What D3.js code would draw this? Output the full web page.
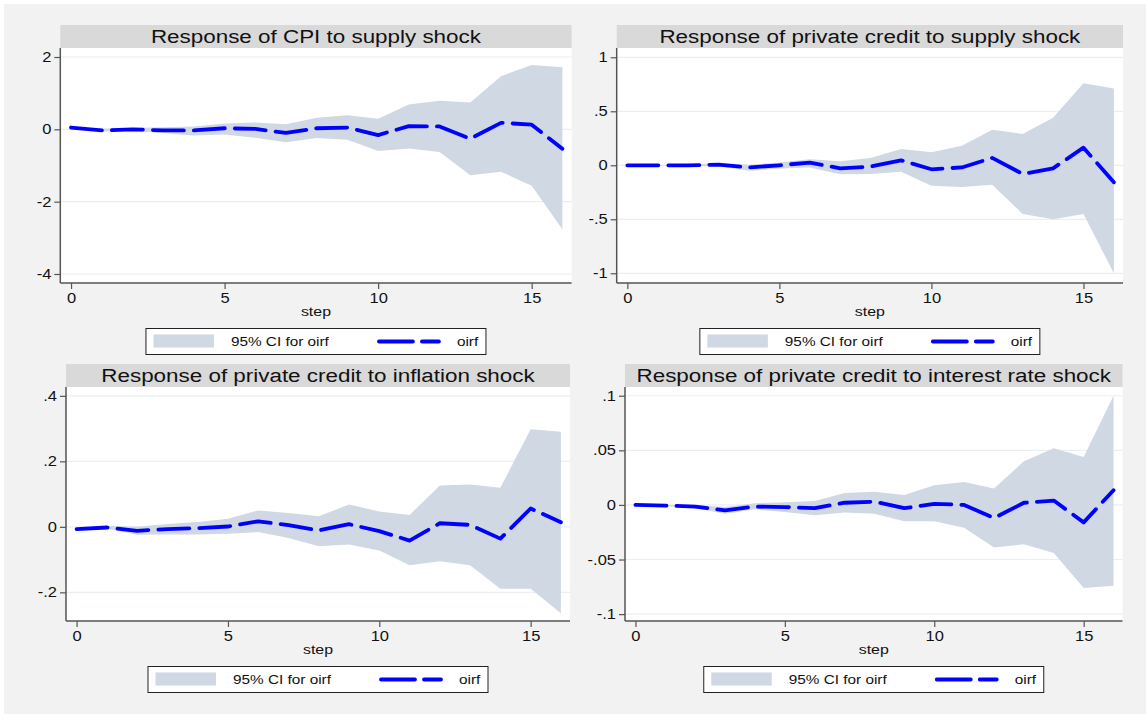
<!DOCTYPE html>
<html>
<head>
<meta charset="utf-8">
<script src="https://cdn.jsdelivr.net/npm/d3@7"></script>
<style>
  body { margin: 0; background: #ffffff; }
  svg text { font-family: "Liberation Sans", Arial, sans-serif; fill: #111; }
</style>
</head>
<body>
<svg id="chart" width="1146" height="714"></svg>
<script>
// impulse response data
const steps = [0, 1, 2, 3, 4, 5, 6, 7, 8, 9, 10, 11, 12, 13, 14, 15, 16];

const titles = [
  "Response of CPI to supply shock",
  "Response of private credit to supply shock",
  "Response of private credit to inflation shock",
  "Response of private credit to interest rate shock"
];

const cpiSupplyIrf = [0.05, -0.03, 0, -0.03, -0.03, 0.03, 0.01, -0.1, 0.03, 0.05, -0.16, 0.09, 0.08, -0.26, 0.18, 0.13, -0.54];
const cpiSupplyHi  = [0.05, 0.02, 0.04, 0.06, 0.08, 0.16, 0.19, 0.14, 0.32, 0.39, 0.29, 0.69, 0.79, 0.74, 1.47, 1.78, 1.72];
const cpiSupplyLo  = [0.04, -0.05, -0.05, -0.1, -0.17, -0.14, -0.23, -0.36, -0.24, -0.29, -0.6, -0.53, -0.63, -1.27, -1.17, -1.56, -2.76];

const creditSupplyIrf = [0, 0, 0, 0.006, -0.02, 0, 0.025, -0.028, -0.012, 0.046, -0.037, -0.02, 0.068, -0.08, -0.028, 0.163, -0.157];
const creditSupplyHi  = [0, 0, 0.005, 0.02, 0.005, 0.025, 0.055, 0.037, 0.068, 0.15, 0.12, 0.18, 0.33, 0.29, 0.44, 0.76, 0.71];
const creditSupplyLo  = [0, -0.003, -0.005, -0.012, -0.05, -0.03, -0.02, -0.083, -0.08, -0.06, -0.19, -0.2, -0.18, -0.45, -0.5, -0.45, -1.0];

const creditInflIrf = [-0.007, -0.002, -0.012, -0.007, -0.004, 0.001, 0.017, 0.005, -0.011, 0.008, -0.013, -0.042, 0.011, 0.006, -0.036, 0.056, 0.014];
const creditInflHi  = [-0.007, 0.003, 0, 0.009, 0.015, 0.025, 0.05, 0.042, 0.032, 0.068, 0.047, 0.036, 0.126, 0.129, 0.119, 0.298, 0.29];
const creditInflLo  = [-0.008, -0.006, -0.024, -0.023, -0.023, -0.021, -0.016, -0.034, -0.059, -0.054, -0.072, -0.117, -0.105, -0.117, -0.189, -0.189, -0.264];

const creditRateIrf = [0, -0.0006, -0.0015, -0.005, -0.0015, -0.002, -0.003, 0.002, 0.003, -0.003, 0.001, 0, -0.012, 0.002, 0.004, -0.016, 0.0135];
const creditRateHi  = [0, 0, 0, -0.002, 0.0015, 0.0025, 0.0035, 0.011, 0.012, 0.009, 0.018, 0.021, 0.015, 0.04, 0.052, 0.044, 0.1];
const creditRateLo  = [0, -0.001, -0.003, -0.008, -0.004, -0.0065, -0.0095, -0.007, -0.008, -0.015, -0.015, -0.021, -0.039, -0.036, -0.044, -0.076, -0.074];

const xTicks = [0, 5, 10, 15];
const yTicks = [
  [-4, -2, 0, 2],
  [-1, -0.5, 0, 0.5, 1],
  [-0.2, 0, 0.2, 0.4],
  [-0.1, -0.05, 0, 0.05, 0.1]
];
const yTickLabels = [
  ["-4", "-2", "0", "2"],
  ["-1", "-.5", "0", ".5", "1"],
  ["-.2", "0", ".2", ".4"],
  ["-.1", "-.05", "0", ".05", ".1"]
];
const yDomains = [[-4.249, 2.249], [-1.09, 1.086], [-0.2875, 0.427], [-0.1063, 0.108]];

const irfs = [cpiSupplyIrf, creditSupplyIrf, creditInflIrf, creditRateIrf];
const his = [cpiSupplyHi, creditSupplyHi, creditInflHi, creditRateHi];
const los = [cpiSupplyLo, creditSupplyLo, creditInflLo, creditRateLo];

// panel boxes (plot area) in page pixels
const panels = [
  { left: 60.3, right: 571.6, top: 48, bottom: 283 },
  { left: 616.7, right: 1123, top: 48, bottom: 283 },
  { left: 66, right: 570, top: 387, bottom: 621 },
  { left: 625, right: 1122.5, top: 387, bottom: 621 }
];

const ciColor = "#d0d8e4";
const lineColor = "#0000ff";
const axisColor = "#555";
const stretchX = 1.18;   // the original picture has its text a bit wide

const svg = d3.select("#chart");

svg.append("rect")
  .attr("x", 4).attr("y", 4)
  .attr("width", 1142).attr("height", 710)
  .attr("fill", "#f2f2f2");

// widen text horizontally around its anchor point
const stretch = (sel) => {
  sel.each(function () {
    const t = d3.select(this);
    const x = +t.attr("x") || 0;
    t.attr("transform", `translate(${x * (1 - stretchX)},0) scale(${stretchX},1)`);
  });
};

panels.forEach((p, i) => {
  const g = svg.append("g");

  const x = d3.scaleLinear().domain([-0.35, 16.3]).range([p.left, p.right]);
  const y = d3.scaleLinear().domain(yDomains[i]).range([p.bottom, p.top]);

  // title bar
  g.append("rect")
    .attr("x", p.left).attr("y", p.top - 23)
    .attr("width", p.right - p.left).attr("height", 23)
    .attr("fill", "#d9d9d9");
  g.append("text")
    .attr("x", (p.left + p.right) / 2)
    .attr("y", p.top - 5)
    .attr("text-anchor", "middle")
    .style("font-size", "19px")
    .text(titles[i])
    .call(stretch);

  // plot area
  g.append("rect")
    .attr("x", p.left).attr("y", p.top)
    .attr("width", p.right - p.left).attr("height", p.bottom - p.top)
    .attr("fill", "#ffffff");

  g.append("g")
    .selectAll("line")
    .data(yTicks[i])
    .enter()
    .append("line")
    .attr("x1", p.left).attr("x2", p.right)
    .attr("y1", d => y(d)).attr("y2", d => y(d))
    .attr("stroke", "#eaeff2")
    .attr("stroke-width", 1.2);

  // confidence band
  const area = d3.area()
    .x((d, j) => x(steps[j]))
    .y0((d, j) => y(los[i][j]))
    .y1((d, j) => y(his[i][j]));
  g.append("path")
    .datum(irfs[i])
    .attr("d", area)
    .attr("fill", ciColor);

  // oirf line
  const line = d3.line()
    .x((d, j) => x(steps[j]))
    .y(d => y(d));
  g.append("path")
    .datum(irfs[i])
    .attr("d", line)
    .attr("fill", "none")
    .attr("stroke", lineColor)
    .attr("stroke-width", 3.8)
    .attr("stroke-linecap", "round")
    .attr("stroke-linejoin", "round")
    .attr("stroke-dasharray", "31,10");

  // axes
  const yAxis = d3.axisLeft(y)
    .tickValues(yTicks[i])
    .tickFormat((d, j) => yTickLabels[i][j])
    .tickSizeInner(6).tickSizeOuter(0).tickPadding(3);
  const yg = g.append("g")
    .attr("transform", `translate(${p.left},0)`)
    .call(yAxis);

  const xAxis = d3.axisBottom(x)
    .tickValues(xTicks)
    .tickFormat(d3.format("d"))
    .tickSizeInner(6).tickSizeOuter(0).tickPadding(4);
  const xg = g.append("g")
    .attr("transform", `translate(0,${p.bottom})`)
    .call(xAxis);

  [yg, xg].forEach(ax => {
    ax.select(".domain").attr("stroke", axisColor).attr("stroke-width", 1.5);
    ax.selectAll(".tick line").attr("stroke", axisColor).attr("stroke-width", 1.2);
    ax.selectAll(".tick text")
      .attr("fill", "#111")
      .style("font-size", "14px")
      .style("font-family", "'Liberation Sans', Arial, sans-serif");
  });
  // x axis domain should span whole plot width
  xg.select(".domain").attr("d", `M${p.left},0H${p.right}`);
  yg.select(".domain").attr("d", `M0,${p.top}V${p.bottom}`);

  xg.selectAll(".tick text").each(function () {
    d3.select(this).attr("transform", `scale(${stretchX},1)`);
  });
  yg.selectAll(".tick text").each(function () {
    const t = d3.select(this);
    const tx = +t.attr("x");
    t.attr("transform", `translate(${tx * (1 - stretchX)},0) scale(${stretchX},1)`);
  });

  g.append("text")
    .attr("x", (p.left + p.right) / 2)
    .attr("y", p.bottom + 33.5)
    .attr("text-anchor", "middle")
    .style("font-size", "13.5px")
    .text("step")
    .call(stretch);

  // legend
  const lw = 340;
  const lx = (p.left + p.right) / 2 - lw / 2;
  const ly = p.bottom + 45.5;
  const lg = g.append("g");
  lg.append("rect")
    .attr("x", lx).attr("y", ly)
    .attr("width", lw).attr("height", 26)
    .attr("fill", "#ffffff")
    .attr("stroke", "#222")
    .attr("stroke-width", 1);
  lg.append("rect")
    .attr("x", lx + 7.5).attr("y", ly + 6)
    .attr("width", 60.5).attr("height", 13)
    .attr("fill", ciColor);
  lg.append("text")
    .attr("x", lx + 85).attr("y", ly + 18)
    .style("font-size", "13px")
    .text("95% CI for oirf")
    .call(stretch);
  lg.append("line")
    .attr("x1", lx + 233).attr("x2", lx + 293)
    .attr("y1", ly + 13).attr("y2", ly + 13)
    .attr("stroke", lineColor)
    .attr("stroke-width", 3.8)
    .attr("stroke-linecap", "round")
    .attr("stroke-dasharray", "34,9");
  lg.append("text")
    .attr("x", lx + 311).attr("y", ly + 18)
    .style("font-size", "13px")
    .text("oirf")
    .call(stretch);
});
</script>
</body>
</html>
